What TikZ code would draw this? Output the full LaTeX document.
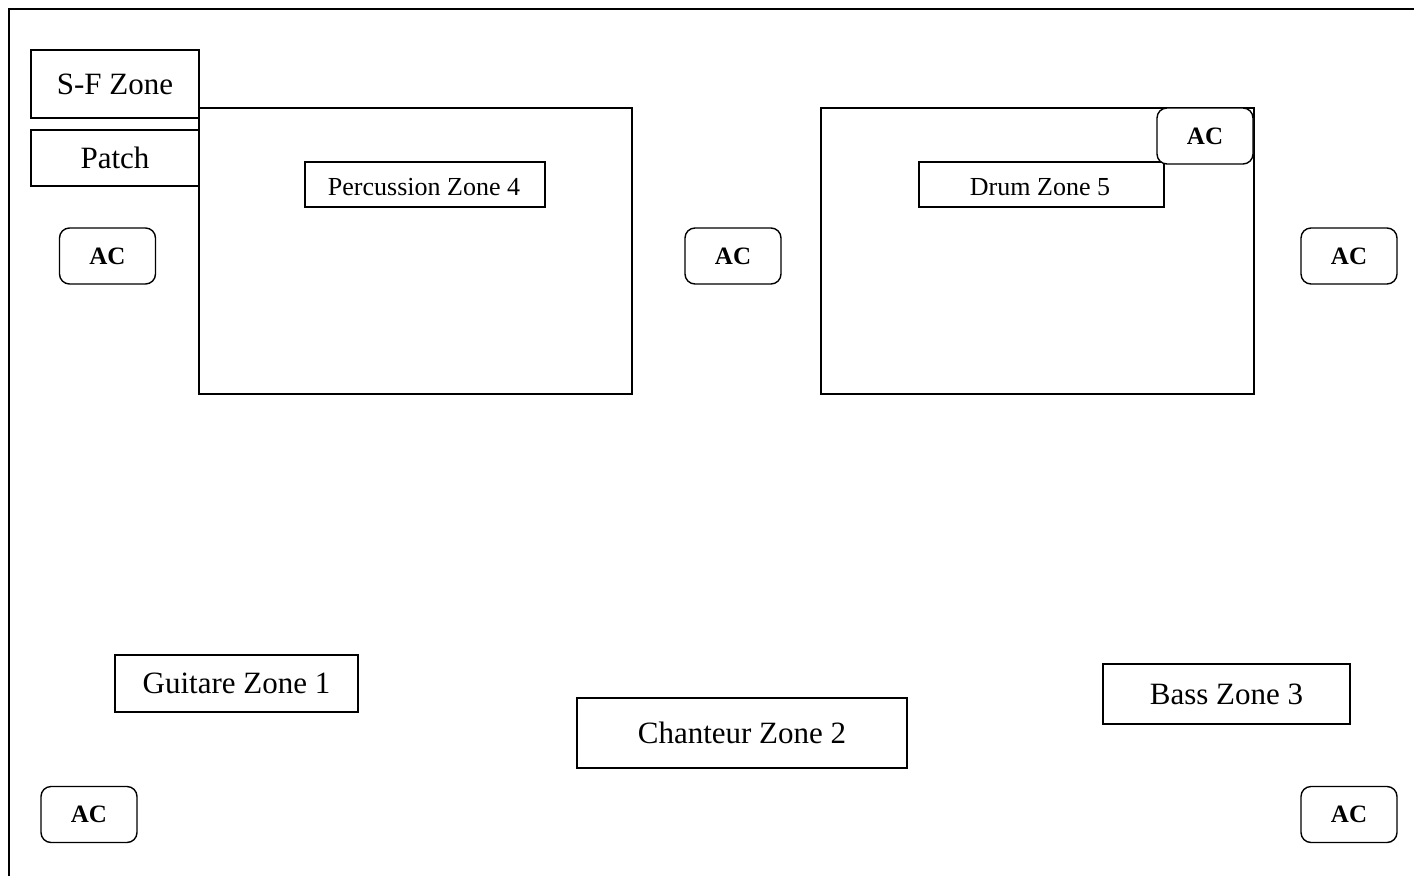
\documentclass[tikz,border=0pt]{standalone}
\usepackage{fontspec}
\setmainfont{Liberation Serif}
\begin{document}
\begin{tikzpicture}[x=1pt,y=-1pt,
  box/.style={draw, line width=1.4pt, inner sep=0pt, fill=white, font=\fontsize{31}{36}\selectfont},
  area/.style={draw, line width=1.4pt, inner sep=0pt},
  lab/.style={draw, line width=1.4pt, inner sep=0pt, fill=white},
  labtext/.style={anchor=base, inner sep=0pt, font=\fontsize{26}{30}\selectfont},
  ac/.style={draw, rounded corners=10pt, fill=white, line width=1.4pt, inner sep=0pt,
    minimum width=96pt, minimum height=56pt, font=\fontsize{25}{30}\selectfont\bfseries}]
\useasboundingbox (0,0) rectangle (1414,876);
\draw[line width=1.4pt] (9,876) -- (9,9) -- (1414,9);

% upper areas
\node[area, minimum width=433pt, minimum height=286pt] (perc) at (415.5,251) {};
\node[area, minimum width=433pt, minimum height=286pt] (drum) at (1037.5,251) {};

% side boxes
\node[box, minimum width=168pt, minimum height=68pt] (sf) at (115,84) {S-F Zone};
\node[box, minimum width=168pt, minimum height=56pt] (patch) at (115,158) {Patch};

% zone labels (text clipped at the bottom)
\node[lab, minimum width=240pt, minimum height=45pt] (perclab) at (425,184.5) {};
\begin{scope}
  \clip (305,162) rectangle (545,195.5);
  \node[labtext] (perctxt) at (424,195.5) {Percussion Zone 4};
\end{scope}
\node[lab, minimum width=245pt, minimum height=45pt] (drumlab) at (1041.5,184.5) {};
\begin{scope}
  \clip (919,162) rectangle (1164,195.5);
  \node[labtext] (drumtxt) at (1040,195.5) {Drum Zone 5};
\end{scope}

% AC units
\node[ac] (acD) at (1205,136) {AC};
\node[ac] (acL) at (107.5,256) {AC};
\node[ac] (acM) at (733,256) {AC};
\node[ac] (acR) at (1349,256) {AC};
\node[ac] (acBL) at (89,814.5) {AC};
\node[ac] (acBR) at (1349,814.5) {AC};

% lower zones
\node[box, minimum width=243pt, minimum height=57pt] (guit) at (236.5,683.5) {Guitare Zone 1};
\node[box, minimum width=330pt, minimum height=70pt] (chant) at (742,733) {Chanteur Zone 2};
\node[box, minimum width=247pt, minimum height=60pt] (bass) at (1226.5,694) {Bass Zone 3};
\end{tikzpicture}
\end{document}
